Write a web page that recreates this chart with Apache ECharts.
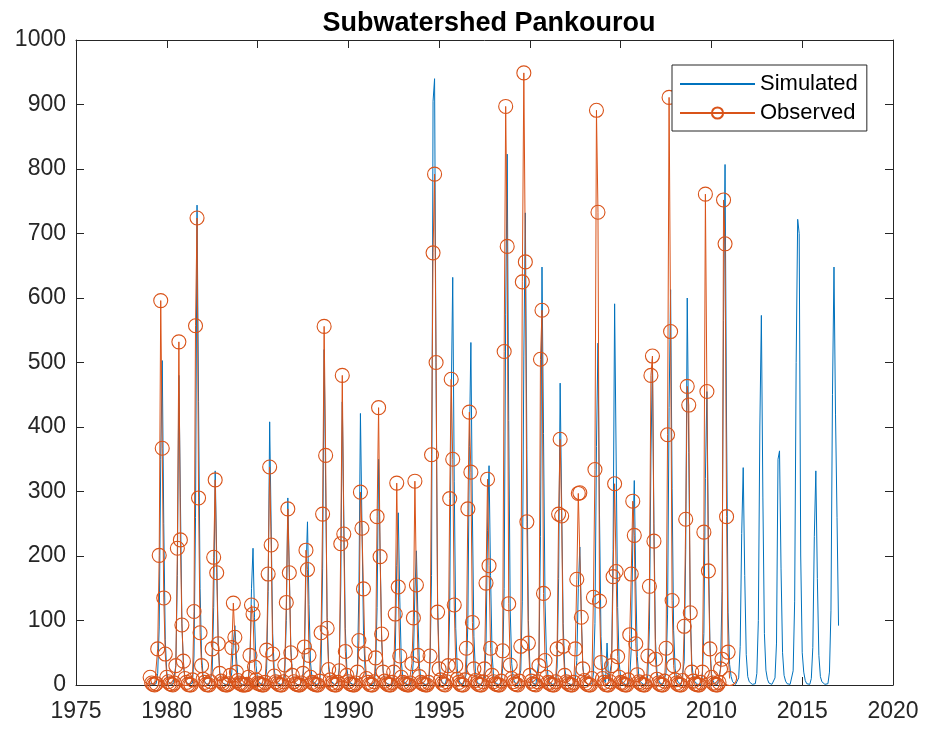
<!DOCTYPE html>
<html>
<head>
<meta charset="utf-8">
<title>Subwatershed Pankourou</title>
<script src="https://cdn.jsdelivr.net/npm/echarts@6/dist/echarts.min.js"></script>
<style>
  html, body { margin: 0; padding: 0; background: #fff; }
  #chart { width: 925px; height: 729px; }
</style>
</head>
<body>
<div id="chart"></div>
<script>
// Monthly discharge, one row per year (Jan..Dec)
const startYear = 1979;

const simulated1979to1988 = [
  [3, 1, 1, 1, 2, 18, 90, 350, 503, 250, 70, 20],
  [6, 2, 1, 1, 3, 30, 170, 480, 290, 95, 30, 10],
  [4, 2, 1, 1, 3, 45, 260, 744, 440, 150, 45, 15],
  [6, 2, 1, 1, 2, 20, 120, 332, 200, 65, 20, 7],
  [3, 1, 1, 0, 1, 5, 20, 65, 92, 45, 13, 4],
  [2, 1, 0, 0, 1, 8, 40, 150, 212, 105, 30, 9],
  [4, 2, 1, 1, 2, 25, 145, 408, 245, 80, 25, 8],
  [4, 1, 1, 1, 2, 18, 100, 290, 175, 58, 18, 6],
  [3, 1, 1, 0, 1, 9, 45, 175, 253, 125, 35, 10],
  [4, 2, 1, 1, 3, 32, 180, 520, 310, 105, 32, 11]
];
const simulated1989to1998 = [
  [5, 2, 1, 1, 3, 27, 155, 439, 265, 88, 27, 9],
  [4, 2, 1, 1, 2, 26, 150, 421, 250, 85, 26, 9],
  [4, 2, 1, 1, 2, 21, 120, 350, 210, 70, 22, 7],
  [3, 1, 1, 1, 1, 10, 48, 185, 267, 135, 37, 11],
  [4, 1, 1, 0, 1, 8, 38, 145, 208, 105, 29, 8],
  [3, 1, 1, 1, 2, 30, 170, 905, 940, 470, 130, 38],
  [12, 4, 2, 1, 2, 20, 115, 440, 632, 315, 88, 25],
  [8, 3, 1, 1, 2, 17, 95, 370, 531, 265, 75, 21],
  [6, 2, 1, 1, 1, 11, 60, 240, 340, 170, 48, 14],
  [4, 2, 1, 1, 2, 26, 150, 575, 823, 410, 115, 33]
];
const simulated1999to2008 = [
  [10, 4, 2, 1, 2, 23, 130, 510, 732, 365, 100, 29],
  [9, 3, 1, 1, 3, 40, 230, 648, 390, 130, 40, 13],
  [4, 2, 1, 1, 3, 28, 165, 468, 280, 95, 28, 9],
  [3, 1, 1, 0, 1, 7, 38, 150, 214, 107, 30, 9],
  [3, 1, 1, 1, 2, 17, 95, 370, 530, 265, 75, 21],
  [8, 4, 65, 6, 3, 35, 210, 591, 355, 120, 35, 12],
  [5, 2, 1, 1, 1, 10, 57, 220, 317, 160, 44, 13],
  [5, 2, 1, 1, 2, 16, 90, 355, 505, 250, 70, 20],
  [8, 3, 1, 1, 2, 19, 110, 430, 613, 305, 85, 25],
  [10, 4, 1, 1, 3, 36, 210, 600, 360, 120, 36, 12]
];
const simulated2009to2016 = [
  [5, 2, 1, 1, 1, 14, 80, 320, 455, 225, 64, 18],
  [7, 2, 1, 1, 2, 25, 145, 565, 807, 400, 113, 32],
  [13, 5, 2, 1, 1, 11, 60, 235, 337, 170, 47, 13],
  [5, 2, 1, 1, 2, 18, 100, 400, 573, 290, 80, 23],
  [9, 3, 1, 1, 1, 11, 65, 350, 363, 180, 50, 15],
  [6, 2, 1, 1, 2, 22, 130, 500, 722, 700, 200, 50],
  [20, 7, 2, 1, 1, 10, 58, 230, 332, 165, 46, 13],
  [5, 2, 1, 1, 2, 20, 115, 450, 648, 420, 260, 92]
];

const observed1979to1988 = [
  [12, 3, 1, 0, 2, 56, 201, 596, 367, 135, 48, 12],
  [5, 2, 1, 0, 3, 30, 212, 532, 225, 93, 37, 10],
  [4, 1, 0, 0, 8, 114, 557, 724, 290, 81, 30, 9],
  [4, 1, 0, 0, 5, 56, 198, 318, 174, 64, 18, 6],
  [3, 1, 0, 0, 2, 15, 58, 127, 74, 20, 7, 3],
  [2, 0, 0, 0, 1, 12, 46, 124, 110, 28, 8, 3],
  [2, 1, 0, 0, 4, 54, 172, 338, 217, 48, 14, 5],
  [3, 1, 0, 0, 5, 31, 128, 273, 174, 50, 15, 5],
  [2, 1, 0, 0, 3, 18, 59, 209, 179, 46, 12, 4],
  [2, 1, 0, 0, 6, 81, 265, 556, 356, 88, 24, 8]
];
const observed1989to1998 = [
  [3, 1, 0, 0, 4, 22, 219, 480, 234, 52, 15, 5],
  [2, 1, 0, 0, 3, 20, 69, 299, 243, 149, 48, 10],
  [4, 1, 0, 0, 5, 42, 261, 430, 199, 79, 20, 6],
  [3, 1, 0, 0, 4, 20, 110, 313, 152, 45, 12, 4],
  [2, 1, 0, 0, 3, 33, 104, 316, 155, 46, 13, 4],
  [2, 1, 0, 0, 4, 45, 357, 670, 792, 500, 113, 25],
  [8, 3, 1, 0, 5, 30, 289, 474, 350, 124, 30, 9],
  [4, 1, 0, 0, 8, 57, 273, 423, 330, 97, 25, 7],
  [3, 1, 0, 0, 5, 25, 158, 319, 185, 57, 15, 5],
  [2, 1, 0, 0, 6, 53, 517, 897, 680, 126, 31, 10]
];
const observed1999to2010 = [
  [5, 2, 1, 0, 6, 60, 625, 949, 656, 253, 65, 15],
  [6, 2, 1, 0, 5, 30, 505, 581, 142, 38, 12, 4],
  [3, 1, 0, 0, 5, 56, 265, 381, 262, 60, 15, 5],
  [3, 1, 0, 0, 4, 56, 164, 297, 298, 105, 25, 7],
  [3, 1, 0, 0, 10, 136, 334, 891, 733, 130, 35, 10],
  [4, 1, 0, 0, 5, 30, 168, 312, 176, 44, 12, 4],
  [3, 1, 0, 0, 8, 78, 172, 285, 232, 64, 16, 5],
  [3, 1, 0, 0, 5, 45, 153, 480, 510, 223, 40, 9],
  [3, 1, 0, 0, 6, 57, 388, 911, 548, 131, 30, 8],
  [3, 1, 0, 0, 7, 91, 257, 463, 434, 112, 20, 6],
  [2, 1, 0, 0, 4, 20, 237, 761, 455, 177, 56, 12],
  [3, 1, 0, 0, 4, 25, 40, 752, 684, 261, 51, 10]
];

const xTicks = [1975, 1980, 1985, 1990, 1995, 2000, 2005, 2010, 2015, 2020];
const yTicks = [0, 100, 200, 300, 400, 500, 600, 700, 800, 900, 1000];

// Turn year rows into [decimal year, value] pairs (month m plotted at year + m/12)
function toSeries(rows, firstYear) {
  const out = [];
  rows.forEach((row, yi) => {
    row.forEach((v, mi) => {
      out.push([firstYear + yi + (mi + 1) / 12, v]);
    });
  });
  return out;
}

const simRows = [].concat(simulated1979to1988, simulated1989to1998, simulated1999to2008, simulated2009to2016);
const obsRows = [].concat(observed1979to1988, observed1989to1998, observed1999to2010);

const simData = toSeries(simRows, startYear);
const obsData = toSeries(obsRows, startYear);

const FONT = "'Liberation Sans', Arial, Helvetica, sans-serif";
const AXIS_COLOR = '#262626';
const BLUE = '#0072BD';
const ORANGE = '#D95319';

const xMin = xTicks[0], xMax = xTicks[xTicks.length - 1];
const yMin = yTicks[0], yMax = yTicks[yTicks.length - 1];

const plainNumber = v => String(v);

function xAxisDef(pos, showLabels) {
  return {
    type: 'value', position: pos, min: xMin, max: xMax, interval: 5,
    axisLine: { show: true, onZero: false, lineStyle: { color: AXIS_COLOR, width: 1 } },
    axisTick: { show: true, inside: true, length: 8, lineStyle: { color: AXIS_COLOR } },
    axisLabel: { show: showLabels, color: AXIS_COLOR, fontSize: 23, fontFamily: FONT, margin: 15, formatter: plainNumber },
    splitLine: { show: false }
  };
}
function yAxisDef(pos, showLabels) {
  return {
    type: 'value', position: pos, min: yMin, max: yMax, interval: 100,
    axisLine: { show: true, onZero: false, lineStyle: { color: AXIS_COLOR, width: 1 } },
    axisTick: { show: true, inside: true, length: 8, lineStyle: { color: AXIS_COLOR } },
    axisLabel: { show: showLabels, color: AXIS_COLOR, fontSize: 23, fontFamily: FONT, margin: 10, formatter: plainNumber },
    splitLine: { show: false }
  };
}

const chart = echarts.init(document.getElementById('chart'), null, { renderer: 'canvas' });
chart.setOption({
  animation: false,
  backgroundColor: '#fff',
  title: {
    text: 'Subwatershed Pankourou',
    left: 484, top: 5, textAlign: 'center',
    textStyle: { fontSize: 27, fontWeight: 'bold', color: '#000', fontFamily: FONT }
  },
  legend: {
    orient: 'vertical',
    left: 672, top: 65,
    padding: [8, 9, 7, 7],
    itemGap: 7,
    itemWidth: 75, itemHeight: 14,
    backgroundColor: '#fff',
    borderColor: AXIS_COLOR, borderWidth: 1,
    textStyle: { fontSize: 22, color: '#000', fontFamily: FONT, lineHeight: 22 },
    data: [
      { name: 'Simulated', itemStyle: { opacity: 0 } },
      { name: 'Observed' }
    ]
  },
  grid: { left: 76, right: 32, top: 40, bottom: 44, containLabel: false },
  xAxis: [xAxisDef('bottom', true), xAxisDef('top', false)],
  yAxis: [yAxisDef('left', true), yAxisDef('right', false)],
  series: [
    {
      name: 'Simulated', type: 'line', xAxisIndex: 0, yAxisIndex: 0,
      data: simData, symbol: 'none', sampling: null,
      lineStyle: { color: BLUE, width: 1 },
      itemStyle: { color: BLUE }
    },
    {
      name: 'Observed', type: 'line', xAxisIndex: 0, yAxisIndex: 0,
      data: obsData, symbol: 'circle', symbolSize: 14, showAllSymbol: true,
      lineStyle: { color: ORANGE, width: 1 },
      itemStyle: { color: 'rgba(255,255,255,0)', borderColor: ORANGE, borderWidth: 1.1 }
    }
  ]
});
</script>
</body>
</html>
